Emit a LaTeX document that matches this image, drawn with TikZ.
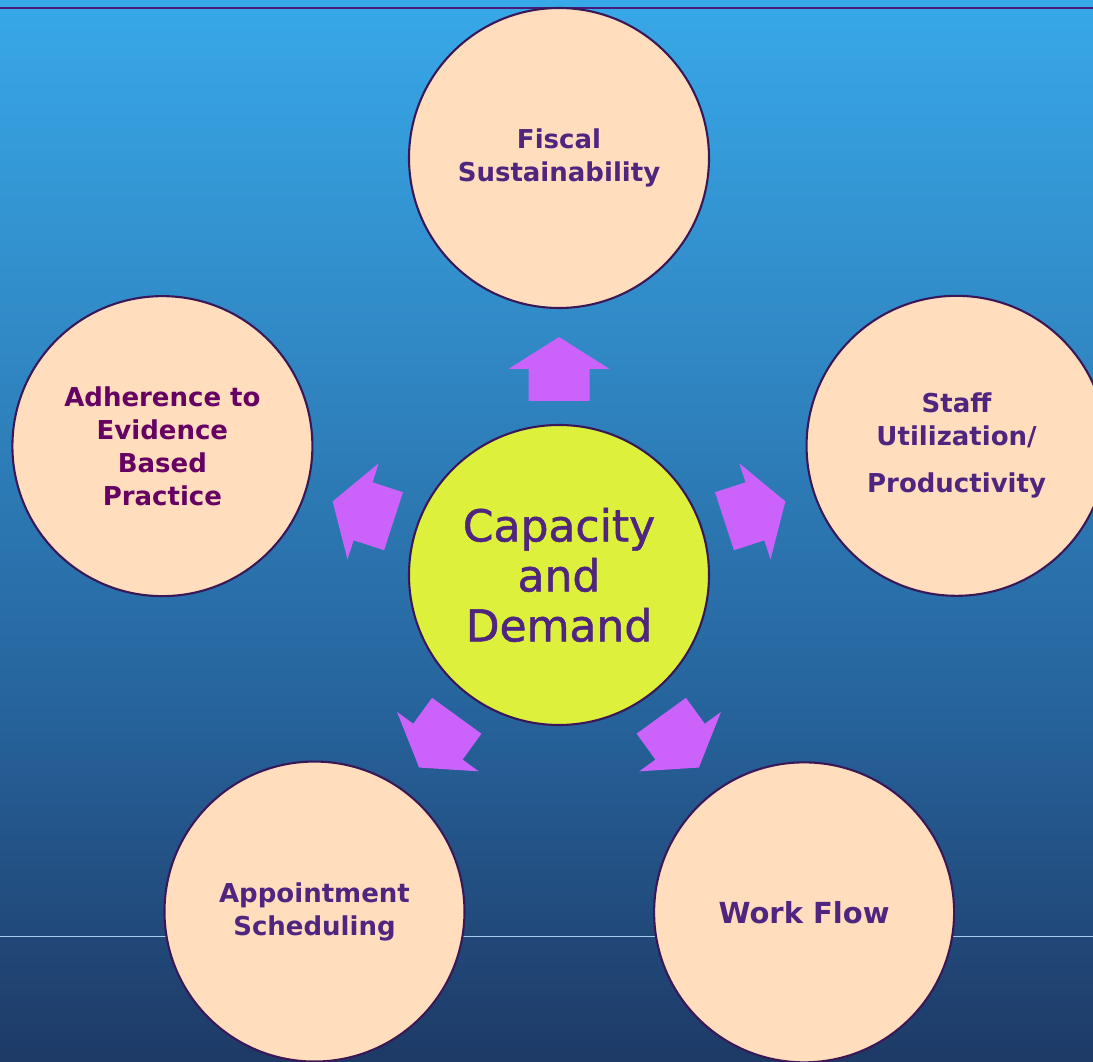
\documentclass[tikz,border=0pt]{standalone}
\usepackage{fontspec}
\usetikzlibrary{calc}
\setmainfont{DejaVu Sans}
\newfontfamily\hubfont[FakeBold=1.2]{DejaVu Sans}
\definecolor{bgA}{HTML}{38A8E8}
\definecolor{bgB}{HTML}{3088C4}
\definecolor{bgC}{HTML}{26639C}
\definecolor{bgD}{HTML}{1E3A66}
\definecolor{rimline}{HTML}{4A1A78}
\definecolor{edgeline}{HTML}{3A1858}
\definecolor{peach}{HTML}{FFDDBD}
\definecolor{lime}{HTML}{DCF03C}
\definecolor{violet}{HTML}{CB63FB}
\definecolor{labelpurple}{HTML}{4F2580}
\definecolor{labelplum}{HTML}{660062}
\definecolor{floorline}{HTML}{A8CCEE}
% vertical gradient; TikZ maps the 25bp--75bp band onto the filled path
\pgfdeclareverticalshading{slidebg}{100bp}{color(0bp)=(bgD); color(25bp)=(bgD); color(41.5bp)=(bgC); color(58.5bp)=(bgB); color(75bp)=(bgA); color(100bp)=(bgA)}
\tikzset{
  topic/.style={circle, draw=edgeline, line width=2.1pt, fill=peach, minimum size=300pt, inner sep=0pt,
    text=labelpurple, font=\bfseries\fontsize{26}{33}\selectfont, align=center},
  hub/.style={circle, draw=edgeline, line width=2.1pt, fill=lime, minimum size=300pt, inner sep=0pt,
    text=labelpurple, font=\hubfont\fontsize{44}{50}\selectfont, align=center},
  pointer/.style={fill=violet, draw=none}
}
\begin{document}
\begin{tikzpicture}[x=1pt, y=1pt]
  % slide background
  \shade[shading=slidebg] (0,0) rectangle (1093,1061);
  \useasboundingbox (0,0) rectangle (1093,1061);
  \draw[rimline, line width=2.5pt] (0,1053) -- (1093,1053);
  \draw[floorline, line width=1pt] (0,124) -- (1093,124);

  % central hub
  \coordinate (c) at (559,486);
  \node[hub] (hub) at (c) {Capacity\\and\\Demand};

  % five block arrows pointing outwards
  \foreach \a in {90,162,234,306,18}{
    \begin{scope}[shift={(c)}, rotate=\a]
      \fill[pointer] (174,-30.5) -- (206,-30.5) -- (206,-50.5) -- (238,0)
        -- (206,50.5) -- (206,30.5) -- (174,30.5) -- cycle;
    \end{scope}
  }

  % surrounding topics
  \node[topic] (fiscal) at ($(c)+(90:417)$) {Fiscal\\Sustainability};
  \node[topic] (staff) at ($(c)+(18:418)$) {Staff\\Utilization/\\[14pt]Productivity};
  \node[topic, font=\bfseries\fontsize{29}{33}\selectfont] (flow) at ($(c)+(306:417)$) {Work Flow};
  \node[topic] (appt) at ($(c)+(234:416)$) {Appointment\\Scheduling};
  \node[topic, text=labelplum] (ebp) at ($(c)+(162:417)$) {Adherence to\\Evidence\\Based\\Practice};
\end{tikzpicture}
\end{document}
